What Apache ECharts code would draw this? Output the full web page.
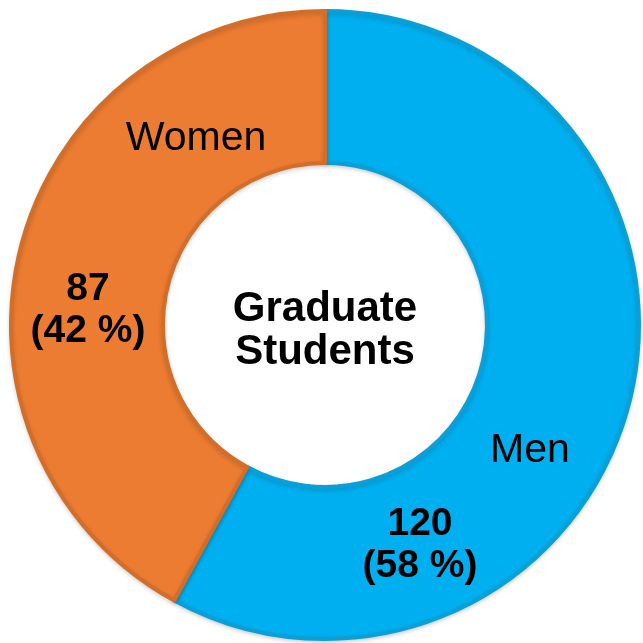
<!DOCTYPE html>
<html>
<head>
<meta charset="utf-8">
<script src="https://cdn.jsdelivr.net/npm/echarts@6/dist/echarts.min.js"></script>
<style>
  html, body { margin: 0; padding: 0; background: #fff; }
  #chart { width: 643px; height: 643px; }
</style>
</head>
<body>
<div id="chart"></div>
<script>
// data
const categories = ['Men', 'Women']
const counts = [120, 87]
const centerTitle = 'Graduate\nStudents'

const colors = ['#00AFEF', '#EC7C31']
const borders = ['#0A9FD6', '#D36E2A']

const total = counts.reduce((a, b) => a + b, 0)
const pct = counts.map(v => Math.round(v / total * 100))

const chart = echarts.init(document.getElementById('chart'))

const font = '"Liberation Sans", Arial, Helvetica, sans-serif'

// label spots (name label, value label)
const nameSpots = [[530, 451], [196, 139]]
const valueSpots = [[420, 545], [88, 310]]

const graphics = []
categories.forEach((name, i) => {
  graphics.push({
    type: 'text', x: nameSpots[i][0], y: nameSpots[i][1], z: 100,
    style: { text: name, font: '41px ' + font, fill: '#000', align: 'center', verticalAlign: 'middle' }
  })
  graphics.push({
    type: 'text', x: valueSpots[i][0], y: valueSpots[i][1], z: 100,
    style: {
      text: counts[i] + '\n(' + pct[i] + ' %)', font: 'bold 39px ' + font, fill: '#000',
      align: 'center', verticalAlign: 'middle', lineHeight: 42
    }
  })
})
graphics.push({
  type: 'text', x: 325, y: 331, z: 100,
  style: { text: centerTitle, font: 'bold 42px ' + font, fill: '#000', align: 'center', verticalAlign: 'middle', lineHeight: 43 }
})

chart.setOption({
  animation: false,
  series: [{
    type: 'pie',
    center: [325, 325],
    radius: [162, 314],
    startAngle: 90,
    clockwise: true,
    z: 1,
    label: { show: false },
    labelLine: { show: false },
    data: categories.map((name, i) => ({
      name: name,
      value: counts[i],
      itemStyle: {
        color: colors[i],
        borderColor: borders[i],
        borderWidth: 4,
        shadowColor: 'rgba(0,0,0,0.15)',
        shadowBlur: 4,
        shadowOffsetY: 2
      }
    }))
  }],
  graphic: graphics
})
</script>
</body>
</html>
